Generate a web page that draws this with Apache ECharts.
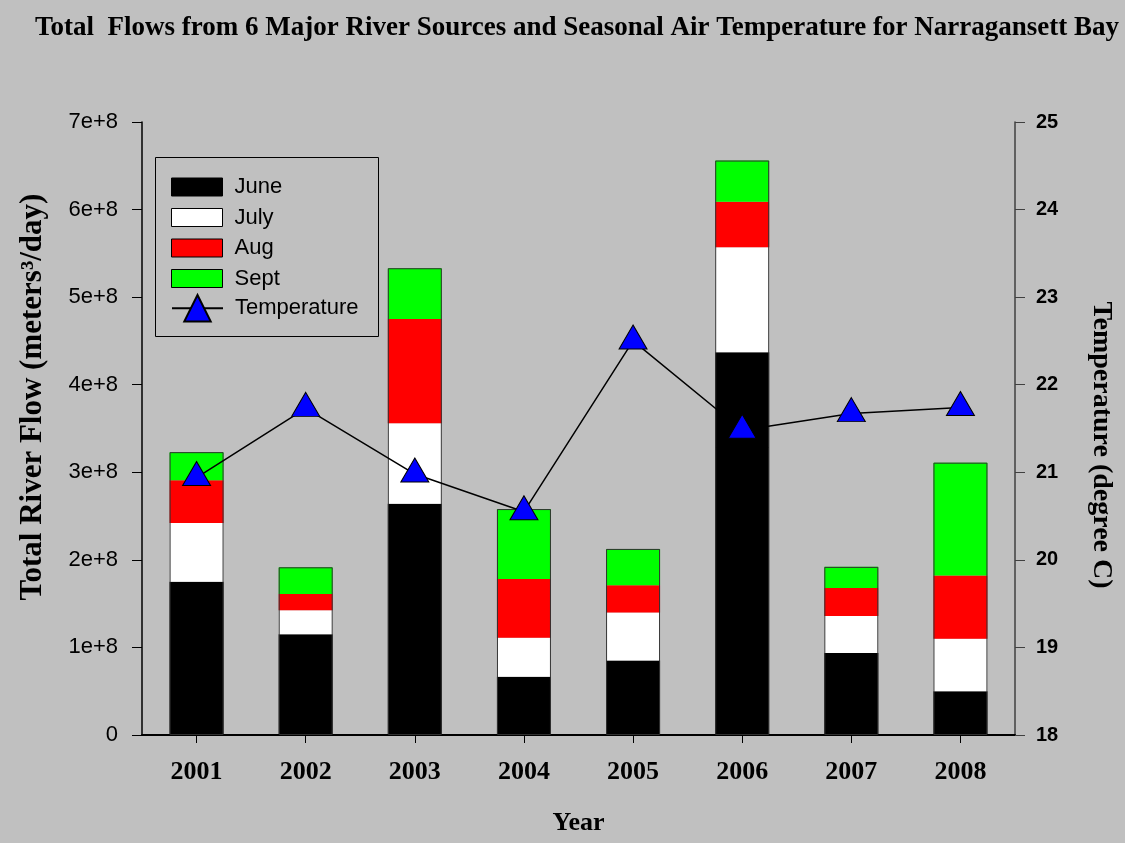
<!DOCTYPE html>
<html>
<head>
<meta charset="utf-8">
<script src="https://cdn.jsdelivr.net/npm/echarts@6/dist/echarts.min.js"></script>
<style>
  html, body { margin: 0; padding: 0; background: #c0c0c0; }
  #chart { width: 1125px; height: 843px; }
</style>
</head>
<body>
<div id="chart"></div>
<script>
const years = ['2001', '2002', '2003', '2004', '2005', '2006', '2007', '2008'];
const june = [1.75e8, 1.15e8, 2.64e8, 0.665e8, 0.85e8, 4.37e8, 0.935e8, 0.50e8];
const july = [0.67e8, 0.275e8, 0.92e8, 0.445e8, 0.55e8, 1.20e8, 0.425e8, 0.60e8];
const aug = [0.49e8, 0.185e8, 1.19e8, 0.67e8, 0.31e8, 0.52e8, 0.32e8, 0.72e8];
const sept = [0.32e8, 0.305e8, 0.58e8, 0.80e8, 0.415e8, 0.47e8, 0.24e8, 1.29e8];
const temperature = [20.94, 21.73, 20.98, 20.55, 22.5, 21.48, 21.67, 21.74];
const flowTickLabels = ['0', '1e+8', '2e+8', '3e+8', '4e+8', '5e+8', '6e+8', '7e+8'];
const tempTickLabels = ['18', '19', '20', '21', '22', '23', '24', '25'];

const totals = years.map((_, i) => june[i] + july[i] + aug[i] + sept[i]);

const SERIF = "'Liberation Serif', 'Times New Roman', serif";
const SANS = "'Liberation Sans', Arial, sans-serif";

const chart = echarts.init(document.getElementById('chart'), null, { renderer: 'canvas' });

const barBase = {
  type: 'bar',
  stack: 'flow',
  barWidth: 54,
  emphasis: { disabled: true }
};

chart.setOption({
  animation: false,
  backgroundColor: '#c0c0c0',
  title: {
    text: 'Total  Flows from 6 Major River Sources and Seasonal Air Temperature for Narragansett Bay',
    left: 35,
    top: 15,
    padding: 0,
    textStyle: { fontFamily: SERIF, fontWeight: 'bold', fontSize: 27, color: '#000' }
  },
  grid: { left: 142, right: 110, top: 122, bottom: 108, containLabel: false },
  legend: [
    {
      orient: 'vertical',
      left: 171,
      top: 176,
      padding: 0,
      icon: 'rect',
      itemWidth: 51,
      itemHeight: 18,
      itemGap: 8.5,
      selectedMode: false,
      textStyle: { fontFamily: SANS, fontSize: 22, color: '#000', padding: [0, 0, 0, 7] },
      data: [
        { name: 'June', itemStyle: { borderColor: '#000', borderWidth: 1 } },
        { name: 'July', itemStyle: { borderColor: '#000', borderWidth: 1 } },
        { name: 'Aug', itemStyle: { borderColor: '#000', borderWidth: 1 } },
        { name: 'Sept', itemStyle: { borderColor: '#000', borderWidth: 1 } }
      ]
    },
    {
      orient: 'vertical',
      left: 171,
      top: 294,
      padding: 0,
      itemWidth: 51,
      itemHeight: 33,
      selectedMode: false,
      textStyle: { fontFamily: SANS, fontSize: 22, color: '#000', padding: [0, 0, 0, 7] },
      data: ['Temperature']
    }
  ],
  graphic: [
    {
      type: 'rect',
      shape: { x: 155.5, y: 157.5, width: 223, height: 179 },
      style: { fill: 'none', stroke: '#000', lineWidth: 1 },
      z: 10
    },
    {
      type: 'text',
      x: 33,
      y: 397,
      rotation: Math.PI / 2,
      style: {
        text: 'Total River Flow (meters³/day)',
        font: "bold 31px 'Liberation Serif', serif",
        fill: '#000',
        textAlign: 'center',
        textVerticalAlign: 'middle'
      }
    },
    {
      type: 'text',
      x: 1101,
      y: 445,
      rotation: -Math.PI / 2,
      style: {
        text: 'Temperature (degree C)',
        font: "bold 28px 'Liberation Serif', serif",
        fill: '#000',
        textAlign: 'center',
        textVerticalAlign: 'middle'
      }
    }
  ],
  xAxis: {
    type: 'category',
    data: years,
    boundaryGap: true,
    name: 'Year',
    nameLocation: 'middle',
    nameGap: 75,
    nameTextStyle: { fontFamily: SERIF, fontWeight: 'bold', fontSize: 26, color: '#000', verticalAlign: 'top' },
    axisLine: { show: true, lineStyle: { color: '#000', width: 2 } },
    axisTick: { show: true, alignWithLabel: true, length: 8, lineStyle: { color: '#000', width: 1 } },
    axisLabel: { fontFamily: SERIF, fontWeight: 'bold', fontSize: 26, color: '#000', margin: 24 },
    splitLine: { show: false }
  },
  yAxis: [
    {
      type: 'value',
      min: 0,
      max: 7e8,
      interval: 1e8,
      position: 'left',
      axisLine: { show: true, lineStyle: { color: '#000', width: 1.5 } },
      axisTick: { show: true, inside: false, length: 10, lineStyle: { color: '#000', width: 1 } },
      axisLabel: {
        fontFamily: SANS, fontSize: 22, color: '#000', margin: 24,
        formatter: (v) => flowTickLabels[Math.round(v / 1e8)]
      },
      splitLine: { show: false }
    },
    {
      type: 'value',
      min: 18,
      max: 25,
      interval: 1,
      position: 'right',
      axisLine: { show: true, lineStyle: { color: '#404040', width: 1.5 } },
      axisTick: { show: true, inside: false, length: 10, lineStyle: { color: '#404040', width: 1 } },
      axisLabel: {
        fontFamily: SANS, fontWeight: 'bold', fontSize: 20, color: '#000', margin: 21,
        formatter: (v) => tempTickLabels[Math.round(v - 18)]
      },
      splitLine: { show: false }
    }
  ],
  series: [
    Object.assign({}, barBase, { name: 'June', data: june, itemStyle: { color: '#000000' } }),
    Object.assign({}, barBase, { name: 'July', data: july, itemStyle: { color: '#ffffff' } }),
    Object.assign({}, barBase, { name: 'Aug', data: aug, itemStyle: { color: '#ff0000' } }),
    Object.assign({}, barBase, { name: 'Sept', data: sept, itemStyle: { color: '#00ff00' } }),
    {
      name: 'outline',
      type: 'bar',
      data: totals,
      barWidth: 54,
      barGap: '-100%',
      silent: true,
      emphasis: { disabled: true },
      itemStyle: { color: 'rgba(0,0,0,0)', borderColor: '#303030', borderWidth: 1 },
      z: 3
    },
    {
      name: 'Temperature',
      type: 'line',
      yAxisIndex: 1,
      data: temperature,
      symbol: 'triangle',
      symbolSize: [28, 24],
      symbolOffset: [0, -4],
      showSymbol: true,
      lineStyle: { color: '#000', width: 1.5 },
      itemStyle: { color: '#0000ff', borderColor: '#000', borderWidth: 1 },
      emphasis: { disabled: true },
      z: 5
    }
  ]
});
</script>
</body>
</html>
